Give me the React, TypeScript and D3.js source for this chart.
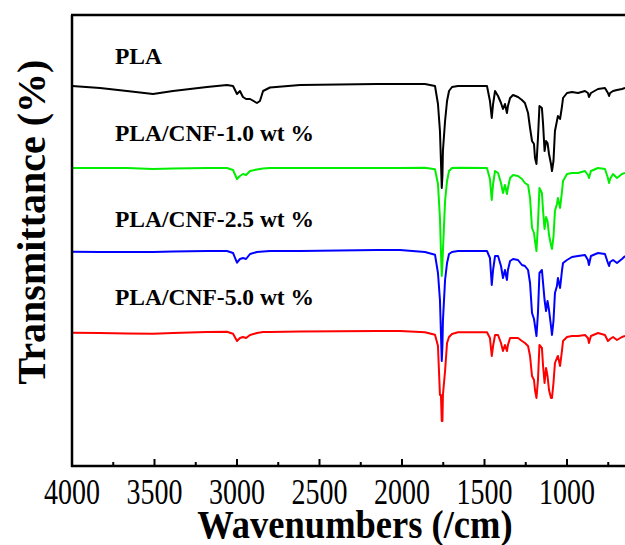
import React from "react";
import * as d3 from "d3";

// FTIR spectra of neat PLA and PLA/CNF composites (transmittance, arbitrary offset units)
const wavenumbers = [
  4000, 3830, 3667, 3509, 3388, 3182, 3061, 3024, 3000, 2982, 2964, 2945, 2921, 2879, 2861, 2842,
  2800, 2618, 2152, 2012, 1861, 1800, 1782, 1770, 1764, 1759, 1755, 1752, 1739, 1727, 1715, 1697,
  1661, 1485, 1467, 1456, 1448, 1436, 1418, 1400, 1388, 1376, 1364, 1358, 1345, 1327, 1297, 1273,
  1255, 1236, 1224, 1212, 1200, 1194, 1185, 1176, 1167, 1152, 1145, 1136, 1127, 1118, 1109, 1097,
  1091, 1082, 1073, 1061, 1055, 1042, 1030, 1024, 1000, 970, 933, 891, 873, 867, 855, 812,
  770, 752, 745, 739, 721, 697, 667, 648,
];

const plaT = [
  380, 378, 375, 372, 375, 379, 381, 380, 372, 375, 369, 367, 367, 363, 365, 375,
  378.5, 381, 382, 382, 382, 380, 362, 335, 305, 278, 290, 315, 345, 365, 375, 379,
  380, 380, 365, 348, 362, 375, 370, 363, 357, 362, 353, 360, 368, 371, 369, 366,
  363, 353, 338, 325, 322, 308, 302, 328, 360, 358, 342, 315, 325, 323, 312, 302,
  295, 305, 335, 345, 350, 347, 360, 368, 373, 374, 373, 375, 373, 369, 373, 377,
  378, 373, 370, 373, 375, 376, 377, 378,
];

const cnf10T = [
  298, 298, 298, 297, 297.5, 298, 298, 296, 287, 290, 292, 291, 295, 296.5, 297, 297.5,
  298, 298, 298, 298, 298.3, 296.7, 282, 248, 215, 190, 203, 215, 265, 285, 295, 298,
  298.3, 298, 287, 266, 282, 295, 293, 283, 273, 281, 272, 278, 288, 291, 290, 287,
  283, 281, 268, 238, 233, 225, 215, 242, 278, 273, 255, 237, 249, 245, 231, 221,
  217, 229, 255, 262, 268, 258, 275, 285, 292, 293, 293, 295, 291, 288, 295, 298,
  297, 288, 283, 287, 292, 288, 292, 293,
];

const cnf25T = [
  214.3, 214, 214, 214, 214.5, 215, 215, 213, 203.3, 207, 208, 207, 212, 214, 214.3, 214.5,
  215, 215, 216, 216, 214, 211.3, 193, 166, 133, 105, 120, 145, 186, 203, 212, 214,
  215, 215, 208, 181, 196, 210, 210, 200, 188, 196, 186, 196, 205, 207, 206, 201,
  200, 196, 183, 153, 147, 140, 130, 153, 193, 196, 183, 166, 155, 165, 156, 140,
  131, 145, 173, 180, 188, 178, 196, 203, 206, 209, 210, 211, 206, 201, 210, 213,
  212, 203, 200, 204, 206, 203, 207, 210,
];

const cnf50T = [
  133.3, 133, 132.5, 132.3, 133, 134, 134.3, 132.3, 125, 128, 129, 128, 131, 133, 133.5, 134,
  134, 134.5, 135, 135, 133.7, 131.3, 120, 71, 71, 45, 45, 71, 95, 123, 129, 132,
  133.7, 133.7, 128, 110, 120, 131, 131, 123, 115, 121, 115, 121, 128, 128, 128, 125,
  123, 120, 110, 90, 86, 76, 68, 86, 121, 118, 100, 83, 98, 90, 76, 68,
  68, 83, 103, 108, 110, 100, 116, 125, 129, 130, 130, 131, 128, 123, 130, 133,
  131, 125, 126, 127, 129, 126, 129, 130,
];

const seriesNames = ["PLA", "PLA/CNF-1.0 wt %", "PLA/CNF-2.5 wt %", "PLA/CNF-5.0 wt %"];
const seriesValues = [plaT, cnf10T, cnf25T, cnf50T];
const seriesColors = ["#000000", "#00ee00", "#0000ff", "#ff0000"];
const labelLevels = [402, 325, 239, 161];

const xTicks = [4000, 3500, 3000, 2500, 2000, 1500, 1000];
const xMinorTicks = [3750, 3250, 2750, 2250, 1750, 1250, 750];

const W = 625;
const H = 545;
const left = 72;
const top = 15;
const bottom = 466;

export default function App() {
  const x = d3.scaleLinear().domain([4000, 650]).range([left, 624.75]);
  const y = d3.scaleLinear().domain([0, 451]).range([bottom, top]);

  const line = d3
    .line<[number, number]>()
    .x((d) => x(d[0]))
    .y((d) => y(d[1]))
    .curve(d3.curveLinear);

  const serif = "'Liberation Serif', 'Times New Roman', serif";

  return (
    <svg
      width={W}
      height={H}
      viewBox={`0 0 ${W} ${H}`}
      style={{ position: "fixed", left: 0, top: 0, background: "#fff" }}
    >
      <rect x={0} y={0} width={W} height={H} fill="#fff" />

      {seriesValues.map((vals, i) => (
        <path
          key={seriesNames[i]}
          d={line(wavenumbers.map((w, k) => [w, vals[k]] as [number, number])) || ""}
          fill="none"
          stroke={seriesColors[i]}
          strokeWidth={2}
          strokeLinejoin="round"
        />
      ))}

      {seriesNames.map((name, i) => (
        <text
          key={name}
          x={115}
          y={y(labelLevels[i])}
          fontFamily={serif}
          fontWeight="bold"
          fontSize={23.5}
          fill="#000"
        >
          {name}
        </text>
      ))}

      {/* frame */}
      <line x1={left} x2={left} y1={top} y2={bottom + 1} stroke="#000" strokeWidth={2.5} />
      <line x1={left - 1} x2={W + 5} y1={top} y2={top} stroke="#000" strokeWidth={2.5} />
      <line x1={left - 1} x2={W + 5} y1={bottom} y2={bottom} stroke="#000" strokeWidth={2.5} />

      {xTicks.map((t) => (
        <g key={t}>
          <line x1={x(t)} x2={x(t)} y1={bottom} y2={bottom - 7} stroke="#000" strokeWidth={2} />
          <text
            transform={`translate(${x(t)}, 504) scale(1, 1.3)`}
            textAnchor="middle"
            fontFamily={serif}
            fontSize={28}
            fill="#000"
          >
            {t}
          </text>
        </g>
      ))}
      {xMinorTicks.map((t) => (
        <line key={t} x1={x(t)} x2={x(t)} y1={bottom} y2={bottom - 4} stroke="#000" strokeWidth={2} />
      ))}

      <text
        transform="translate(355, 538) scale(1, 1.12)"
        textAnchor="middle"
        fontFamily={serif}
        fontWeight="bold"
        fontSize={36.5}
        fill="#000"
      >
        Wavenumbers (/cm)
      </text>

      <text
        transform={`translate(45, 222) rotate(-90)`}
        textAnchor="middle"
        fontFamily={serif}
        fontWeight="bold"
        fontSize={40}
        fill="#000"
      >
        Transmittance (%)
      </text>
    </svg>
  );
}
